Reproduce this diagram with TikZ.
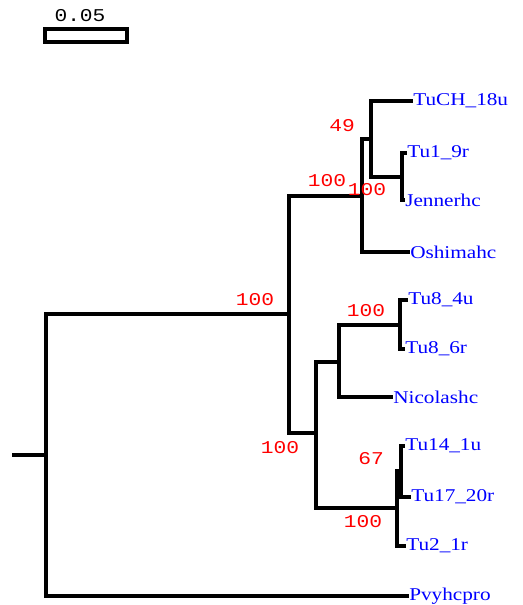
\documentclass[tikz,border=0pt]{standalone}
\usepackage{fontspec}
\setmainfont{Liberation Serif}
\newfontfamily\leaffnt[FakeStretch=1.18]{Liberation Serif}
\newfontfamily\monofnt[FakeStretch=1.18]{Liberation Mono}
\begin{document}
\begin{tikzpicture}[x=0.75pt,y=-0.75pt,
  br/.style={line width=3pt,line cap=rect},
  leaf/.style={anchor=west,inner sep=1.5pt,text=blue,font=\leaffnt\fontsize{13.5pt}{14pt}\selectfont},
  boot/.style={inner sep=0pt,text=red,font=\monofnt\fontsize{13.5pt}{14pt}\selectfont},
  sb/.style={inner sep=0pt,text=black,font=\monofnt\fontsize{13.5pt}{14pt}\selectfont}]
\useasboundingbox (0,0) rectangle (522,605);
% scale bar
\node[sb] (sbl) at (80,16) {0.05};
\draw[line width=2.4pt] (45,29) rectangle (127,42);
% internal nodes
\coordinate (root) at (14,455);
\coordinate (R) at (46,455);
\coordinate (A) at (289,314);
\coordinate (B) at (362,196);
\coordinate (D) at (371,139);
\coordinate (E) at (402,177);
\coordinate (C) at (316,433);
\coordinate (F) at (339,362);
\coordinate (H) at (400,325);
\coordinate (G) at (397,508);
\coordinate (I) at (401,471);
% leaves
\node[leaf] (tuch) at (411,101) {TuCH\_18u};
\node[leaf] (tu19) at (405,153) {Tu1\_9r};
\node[leaf] (jen) at (403,200) {Jennerhc};
\node[leaf] (osh) at (408,252) {Oshimahc};
\node[leaf] (tu84) at (406,300) {Tu8\_4u};
\node[leaf] (tu86) at (403,349) {Tu8\_6r};
\node[leaf] (nic) at (391,397) {Nicolashc};
\node[leaf] (tu14) at (403,446) {Tu14\_1u};
\node[leaf] (tu17) at (409,497) {Tu17\_20r};
\node[leaf] (tu2) at (404,546) {Tu2\_1r};
\node[leaf] (pvy) at (407,596) {Pvyhcpro};
% branches
\draw[br] (root) -- (R);
\draw[br] (R) |- (A);
\draw[br] (R) |- (pvy.west);
\draw[br] (A) |- (B);
\draw[br] (A) |- (C);
\draw[br] (B) |- (D);
\draw[br] (B) |- (osh.west);
\draw[br] (D) |- (tuch.west);
\draw[br] (D) |- (E);
\draw[br] (E) |- (tu19.west);
\draw[br] (E) |- (jen.west);
\draw[br] (C) |- (F);
\draw[br] (C) |- (G);
\draw[br] (F) |- (H);
\draw[br] (F) |- (nic.west);
\draw[br] (H) |- (tu84.west);
\draw[br] (H) |- (tu86.west);
\draw[br] (G) |- (I);
\draw[br] (G) |- (tu2.west);
\draw[br] (I) |- (tu14.west);
\draw[br] (I) |- (tu17.west);
% bootstrap values
\node[boot] (bD) at (342,126) {49};
\node[boot] (bB1) at (327,181) {100};
\node[boot] (bB2) at (367,190) {100};
\node[boot] (bA) at (255,300) {100};
\node[boot] (bH) at (366,311) {100};
\node[boot] (bC) at (280,448) {100};
\node[boot] (bI) at (371,459) {67};
\node[boot] (bG) at (363,522) {100};
\end{tikzpicture}
\end{document}
